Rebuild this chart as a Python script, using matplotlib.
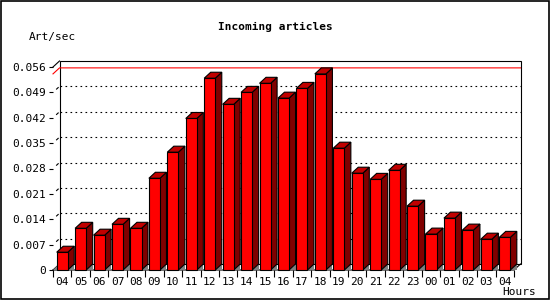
import numpy as np
import matplotlib
matplotlib.use("Agg")
import matplotlib.pyplot as plt
from matplotlib.patches import Polygon, Rectangle

# hourly incoming article rate (Art/sec)
hours = ['04', '05', '06', '07', '08', '09', '10', '11', '12', '13', '14', '15', '16',
         '17', '18', '19', '20', '21', '22', '23', '00', '01', '02', '03', '04']
rate = [0.0049, 0.0115, 0.0096, 0.0126, 0.0115, 0.0253, 0.0325, 0.0418, 0.0529,
        0.0457, 0.0490, 0.0515, 0.0474, 0.0501, 0.0541, 0.0336, 0.0267, 0.0250,
        0.0275, 0.0176, 0.0099, 0.0143, 0.0110, 0.0085, 0.0090]
yticks = [0, 0.007, 0.014, 0.021, 0.028, 0.035, 0.042, 0.049, 0.056]
ytick_labels = ['0', '0.007', '0.014', '0.021', '0.028', '0.035', '0.042', '0.049', '0.056']

W, H = 550, 300
fig = plt.figure(figsize=(5.5, 3), dpi=100)
fig.patch.set_facecolor('white')
ax = fig.add_axes([53 / W, 30 / H, 461 / W, 203 / H])
n = len(hours)
ymax = yticks[-1]
ax.set_xlim(-0.5, n - 0.5)
ax.set_ylim(0, ymax)
for s in ax.spines.values():
    s.set_visible(False)
ax.patch.set_alpha(0)

# 3D depth, in data units
dx = 6.5 * n / 461
dy = 6.0 * ymax / 203
mono = 'DejaVu Sans Mono'
lw = 0.8

# back wall
ax.add_patch(Rectangle((-0.5 + dx, dy), n, ymax, fc='white', ec='black', lw=lw,
                       clip_on=False, zorder=1))
# dotted grid on the wall
for v in yticks[1:-1]:
    ax.plot([-0.5 + dx, n - 0.5 + dx], [v + dy, v + dy], color='black', lw=lw,
            ls=(0, (1.5, 3)), clip_on=False, zorder=2)
    ax.plot([-0.5 + dx * 0.55, -0.5 + dx * 0.8], [v + dy * 0.55, v + dy * 0.8],
            color='black', lw=lw, clip_on=False, zorder=2)
# max line
vmax = max(rate)
ax.plot([-0.5, -0.5 + dx, n - 0.5 + dx], [vmax, vmax + dy, vmax + dy],
        color='#ff0000', lw=lw, clip_on=False, zorder=2)
# box edges
ax.plot([-0.5, -0.5 + dx], [ymax, ymax + dy], color='black', lw=lw, clip_on=False, zorder=3)
ax.plot([-0.5, -0.5 + dx], [0, dy], color='black', lw=lw, clip_on=False, zorder=3)
ax.plot([-0.5, n - 0.5, n - 0.5 + dx], [0, 0, dy], color='black', lw=lw,
        clip_on=False, zorder=3)
ax.add_patch(Polygon([(-0.5, 0), (-0.5 + dx * 0.6, 0), (-0.5 + dx * 0.6, dy * 0.6)],
                     closed=True, fc='#808080', ec='none', clip_on=False, zorder=3))

# bars
bw = 0.6
for i, v in enumerate(rate):
    l, r = i - bw / 2, i + bw / 2
    z = 4 + i * 0.01
    ax.add_patch(Polygon([(r, 0), (r + dx, 0), (r + dx, dy)], closed=True,
                         fc='#808080', ec='none', clip_on=False, zorder=z))
    ax.add_patch(Polygon([(r, 0), (r + dx, dy), (r + dx, v + dy), (r, v)], closed=True,
                         fc='#800000', ec='black', lw=lw, clip_on=False, zorder=z))
    ax.add_patch(Polygon([(l, v), (l + dx, v + dy), (r + dx, v + dy), (r, v)], closed=True,
                         fc='#c00000', ec='black', lw=lw, clip_on=False, zorder=z))
    ax.add_patch(Rectangle((l, 0), bw, v, fc='#ff0000', ec='black', lw=lw,
                           clip_on=False, zorder=z))

# ticks
ax.set_yticks(yticks)
ax.set_yticklabels(ytick_labels, family=mono, fontsize=8)
ax.tick_params(axis='y', length=3, width=lw, pad=2, direction='out')
ax.set_xticks(np.arange(n + 1) - 0.5)
ax.set_xticklabels([])
ax.set_xticks(np.arange(n), minor=True)
ax.set_xticklabels(hours, minor=True, family=mono, fontsize=8)
ax.tick_params(axis='x', which='major', length=5, width=lw, direction='out')
ax.tick_params(axis='x', which='minor', length=0, pad=5)

fig.text(275 / W, 1 - 27 / H, 'Incoming articles', family=mono, fontsize=8,
         fontweight='bold', ha='center', va='center')
fig.text(29 / W, 1 - 37 / H, 'Art/sec', family=mono, fontsize=8, ha='left', va='center')
fig.text(519 / W, 1 - 292 / H, 'Hours', family=mono, fontsize=8, ha='center', va='center')

fig.patches.append(Rectangle((0.5 / W, 1.5 / H), 548.5 / W, 298 / H, transform=fig.transFigure,
                             fc='none', ec='black', lw=1.2))

fig.savefig('out.png', dpi=100)
